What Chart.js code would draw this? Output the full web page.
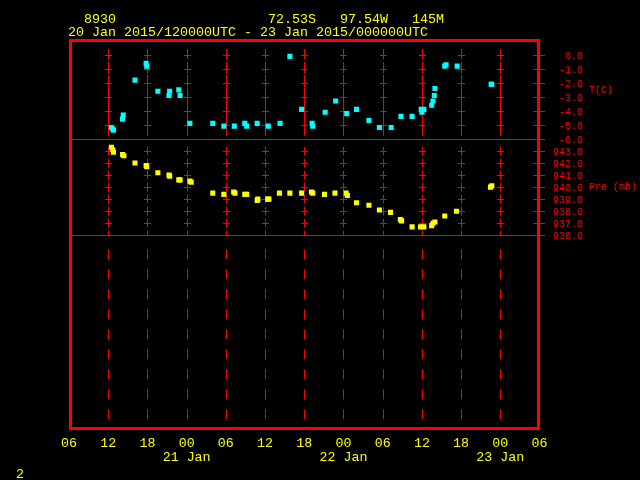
<!DOCTYPE html>
<html>
<head>
<meta charset="utf-8">
<script src="https://cdn.jsdelivr.net/npm/chart.js@4.4.1/dist/chart.umd.min.js"></script>
<style>
  html, body { margin: 0; padding: 0; background: #000; }
  canvas { display: block; }
</style>
</head>
<body>
<canvas id="meteogram" width="640" height="480"></canvas>
<script>
// station header
const stationId = '8930';
const stationLat = '72.53S';
const stationLon = '97.54W';
const stationElev = '145M';
const periodText = '20 Jan 2015/120000UTC - 23 Jan 2015/000000UTC';

// hours after 20 Jan 2015 00Z
const tempHours = [12.5, 12.7, 12.8, 14.2, 14.3, 16.1, 17.8, 17.9, 19.6, 21.3, 21.4, 22.8, 23.0, 24.5,
  28.0, 29.7, 31.3, 32.9, 33.2, 34.8, 36.5, 38.3, 39.8, 41.6, 43.2, 43.3, 45.2, 46.8, 48.5, 50.0,
  51.9, 53.5, 55.3, 56.8, 58.5, 59.9, 60.0, 60.3, 61.5, 61.7, 61.9, 62.0, 63.5, 63.7, 65.4, 70.6, 70.7];
const tempValues = [-5.2, -5.3, -5.4, -4.6, -4.3, -1.8, -0.6, -0.8, -2.6, -2.9, -2.6, -2.5, -2.9, -4.9,
  -4.9, -5.1, -5.1, -4.9, -5.1, -4.9, -5.1, -4.9, -0.1, -3.9, -4.9, -5.1, -4.1, -3.3, -4.2, -3.9,
  -4.7, -5.2, -5.2, -4.4, -4.4, -3.9, -4.1, -3.9, -3.6, -3.3, -2.9, -2.4, -0.8, -0.7, -0.8, -2.1, -2.1];

const presHours = [12.5, 12.7, 12.8, 14.2, 14.4, 16.1, 17.8, 17.9, 19.6, 21.3, 21.4, 22.8, 23.0, 24.5, 24.7,
  28.0, 29.7, 31.2, 31.4, 32.9, 33.2, 34.8, 34.9, 36.4, 36.6, 38.2, 39.8, 41.6, 43.1, 43.3, 45.1,
  46.7, 48.4, 48.6, 50.0, 51.9, 53.5, 55.2, 56.7, 56.9, 58.5, 59.8, 60.3, 61.5, 61.7, 62.0, 63.5,
  65.3, 70.5, 70.7];
const presValues = [943.3, 943.1, 942.9, 942.7, 942.6, 942.0, 941.8, 941.7, 941.2, 941.0, 940.9, 940.6, 940.6, 940.5, 940.4,
  939.5, 939.4, 939.6, 939.5, 939.4, 939.4, 938.9, 939.0, 939.0, 939.0, 939.5, 939.5, 939.5, 939.6, 939.5, 939.4,
  939.5, 939.5, 939.3, 938.7, 938.5, 938.1, 937.9, 937.3, 937.2, 936.7, 936.7, 936.7, 936.8, 937.0, 937.1, 937.6,
  938.0, 940.0, 940.1];

const tempTicks = [0, -1, -2, -3, -4, -5, -6];
const presTicks = [943, 942, 941, 940, 939, 938, 937, 936];

const RED = '#ff0000';
const YELLOW = '#ffff00';
const CYAN = '#00ffff';
const MONO = '"Liberation Mono", "DejaVu Sans Mono", monospace';

// grid, frame, right-hand axis labels and header text in GEMPAK style
const gempakFrame = {
  id: 'gempakFrame',
  beforeDatasetsDraw(chart) {
    const { ctx, chartArea: a, scales } = chart;
    const tSep = scales.yT.getPixelForValue(tempTicks[tempTicks.length - 1]);
    const pSep = scales.yP.getPixelForValue(presTicks[presTicks.length - 1]);
    const xs = scales.x.ticks.slice(1, -1).map(t => scales.x.getPixelForValue(t.value));
    ctx.save();
    ctx.strokeStyle = RED;
    ctx.lineWidth = 1;

    // vertical dashed lines
    xs.forEach(px => {
      const x = Math.round(px) + 0.5;
      ctx.setLineDash([9, 4]);
      ctx.lineDashOffset = 0;
      ctx.beginPath(); ctx.moveTo(x, a.top + 9); ctx.lineTo(x, tSep); ctx.stroke();
      ctx.setLineDash([8, 4]);
      ctx.beginPath(); ctx.moveTo(x, tSep + 8); ctx.lineTo(x, pSep); ctx.stroke();
      ctx.setLineDash([10, 10]);
      ctx.lineDashOffset = 10;
      ctx.beginPath(); ctx.moveTo(x, pSep + 4); ctx.lineTo(x, a.bottom - 2); ctx.stroke();
    });
    ctx.setLineDash([]);

    // crosses at every tick level
    const levels = tempTicks.slice(0, -1).map(v => scales.yT.getPixelForValue(v))
      .concat(presTicks.slice(0, -1).map(v => scales.yP.getPixelForValue(v)));
    ctx.beginPath();
    xs.forEach(px => {
      const x = Math.round(px) + 0.5;
      levels.forEach(py => {
        const y = Math.round(py) + 0.5;
        ctx.moveTo(x - 3.5, y); ctx.lineTo(x + 3.5, y);
        ctx.moveTo(x, y - 4); ctx.lineTo(x, y + 4);
      });
    });
    ctx.stroke();

    // panel separators
    ctx.beginPath();
    [tSep, pSep].forEach(py => {
      const y = Math.round(py) + 0.5;
      ctx.moveTo(a.left, y); ctx.lineTo(a.right, y);
    });
    ctx.stroke();
    ctx.restore();
  },
  afterDraw(chart) {
    const { ctx, chartArea: a, scales } = chart;
    ctx.save();
    // frame
    ctx.strokeStyle = RED;
    ctx.lineWidth = 3;
    ctx.strokeRect(a.left + 1.5, a.top + 0.5, a.right - a.left - 2.5, a.bottom - a.top - 1);

    // right axis ticks and labels
    ctx.lineWidth = 1;
    ctx.fillStyle = RED;
    ctx.font = '10px ' + MONO;
    ctx.textAlign = 'right';
    ctx.textBaseline = 'middle';
    const marks = tempTicks.map(v => [v, scales.yT.getPixelForValue(v)])
      .concat(presTicks.map(v => [v, scales.yP.getPixelForValue(v)]));
    ctx.beginPath();
    marks.forEach(([v, py]) => {
      const y = Math.round(py) + 0.5;
      ctx.moveTo(a.right - 6.5, y); ctx.lineTo(a.right + 5.5, y);
      ctx.fillText(v.toFixed(1), a.right + 43.5, y + 0.5);
    });
    ctx.stroke();
    ctx.textAlign = 'left';
    ctx.fillText('T(C)', a.right + 49.5, scales.yT.getPixelForValue(-2.5));
    ctx.fillText('Pre (mb)', a.right + 49.5, scales.yP.getPixelForValue(940));

    // header
    ctx.fillStyle = YELLOW;
    ctx.font = '13.33px ' + MONO;
    ctx.textBaseline = 'alphabetic';
    const head = '  ' + stationId + ' '.repeat(19) + stationLat + '   ' + stationLon + '   ' + stationElev;
    ctx.fillText(head, 68, 23);
    ctx.fillText(periodText, 68, 36);
    ctx.fillText('2', 16, 478);
    ctx.restore();
  }
};

const pts = (xs, ys) => xs.map((x, i) => ({ x: x, y: ys[i] }));

new Chart(document.getElementById('meteogram'), {
  type: 'scatter',
  data: {
    datasets: [
      {
        label: 'T(C)',
        data: pts(tempHours, tempValues),
        yAxisID: 'yT',
        pointStyle: 'rect',
        pointRadius: 3.6,
        borderWidth: 0,
        backgroundColor: CYAN
      },
      {
        label: 'Pre (mb)',
        data: pts(presHours, presValues),
        yAxisID: 'yP',
        pointStyle: 'rect',
        pointRadius: 3.6,
        borderWidth: 0,
        backgroundColor: YELLOW
      }
    ]
  },
  options: {
    responsive: false,
    animation: false,
    devicePixelRatio: 1,
    layout: { padding: { left: 69, right: 100.5, top: 40, bottom: 0 } },
    plugins: { legend: { display: false }, tooltip: { enabled: false } },
    scales: {
      x: {
        type: 'linear',
        min: 6,
        max: 78,
        grid: { display: false },
        border: { display: false },
        afterFit: s => { s.height = 51; },
        ticks: {
          stepSize: 6,
          autoSkip: false,
          maxRotation: 0,
          padding: 0,
          color: YELLOW,
          font: { family: MONO, size: 13.33, lineHeight: 1.03 },
          callback: v => {
            const hh = String(v % 24).padStart(2, '0');
            return v % 24 === 0 ? [hh, (20 + v / 24) + ' Jan'] : hh;
          }
        }
      },
      yT: { type: 'linear', display: false, min: -26.81, max: 1.075 },
      yP: { type: 'linear', display: false, min: 919.91, max: 952.22 }
    }
  },
  plugins: [gempakFrame]
});
</script>
</body>
</html>
